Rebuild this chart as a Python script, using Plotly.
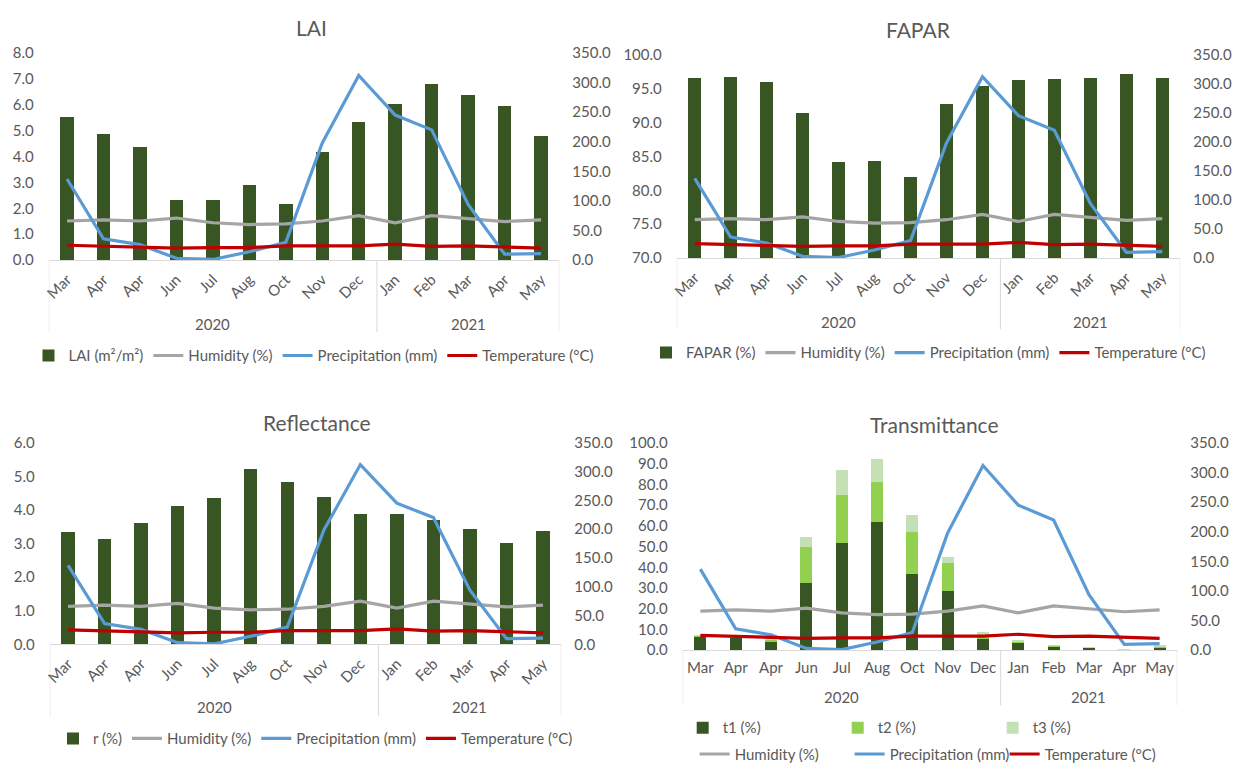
import plotly.graph_objects as go

# ---- data -------------------------------------------------------------
months = ["Mar", "Apr", "Apr", "Jun", "Jul", "Aug", "Oct", "Nov", "Dec",
          "Jan", "Feb", "Mar", "Apr", "May"]
years = ["2020"] * 9 + ["2021"] * 5

humidity = [66, 68, 66, 71, 63, 60, 61, 66, 75, 63, 75, 70, 65, 68]
precipitation = [137, 36, 26, 3, 1, 14, 30, 198, 312, 245, 220, 94, 10, 11]
temperature = [25, 23, 21, 20, 21, 21, 24, 24, 24, 27, 23, 24, 22, 20]

lai = [5.52, 4.86, 4.35, 2.32, 2.31, 2.89, 2.18, 4.19, 5.34, 6.03, 6.81, 6.39, 5.95, 4.81]
fapar = [96.6, 96.75, 96.0, 91.4, 84.1, 84.3, 82.0, 92.7, 95.4, 96.2, 96.4, 96.6, 97.1, 96.6]
reflectance = [3.34, 3.12, 3.60, 4.13, 4.35, 5.22, 4.83, 4.39, 3.87, 3.87, 3.70, 3.44, 3.03, 3.36]
t1 = [6.6, 6.0, 3.9, 32.4, 51.6, 61.9, 36.9, 28.8, 5.2, 3.6, 2.0, 1.2, 0.0, 1.5]
t2 = [0.4, 0.3, 1.3, 17.6, 23.2, 19.4, 20.2, 13.5, 2.2, 0.8, 0.4, 0.1, 0.0, 0.4]
t3 = [0.1, 0.1, 0.1, 4.4, 12.2, 10.8, 8.2, 2.8, 1.2, 0.3, 0.1, 0.1, 0.5, 0.2]

# ---- styling ----------------------------------------------------------
W, H = 1234, 773
FONT = "Lato"
FS = 15
TXT = "#595959"
AXIS_LINE = "#D9D9D9"
DARK_GREEN = "#375623"
MID_GREEN = "#92D050"
LIGHT_GREEN = "#C5E0B4"
HUM_C, PRE_C, TEM_C = "#A5A5A5", "#5B9BD5", "#C00000"


def fx(p):
    return p / W


def fy(p):
    return 1 - p / H


idx = list(range(len(months)))
# year-group boundaries and centres on the category axis
bounds = [-0.5] + [i - 0.5 for i in range(1, len(years)) if years[i] != years[i - 1]] + [len(years) - 0.5]
groups = []
for i, y in enumerate(years):
    if not groups or groups[-1][0] != y:
        groups.append([y, []])
    groups[-1][1].append(i)

panels = [
    dict(n=1, title="LAI", bars=[("LAI (m²/m²)", lai, DARK_GREEN)],
         yrange=[0, 8], dtick=1, bw=0.37,
         x=(43, 556), y=(44, 256), title_xy=(307, 18), tickangle=-45,
         year_y=321, div_bottom=330, legend="legend", leg_xy=(309, 354)),
    dict(n=2, title="FAPAR", bars=[("FAPAR (%)", fapar, DARK_GREEN)],
         yrange=[70, 100], dtick=5, bw=0.37,
         x=(674, 1180), y=(45.7, 254), title_xy=(917, 20), tickangle=-45,
         year_y=319, div_bottom=327, legend="legend2", leg_xy=(927, 351)),
    dict(n=3, title="Reflectance", bars=[("r (%)", reflectance, DARK_GREEN)],
         yrange=[0, 6], dtick=1, bw=0.37,
         x=(44, 558), y=(443, 649.5), title_xy=(313, 422), tickangle=-45,
         year_y=714, div_bottom=723, legend="legend3", leg_xy=(311, 746)),
    dict(n=4, title="Transmittance",
         bars=[("t1 (%)", t1, DARK_GREEN), ("t2 (%)", t2, MID_GREEN), ("t3 (%)", t3, LIGHT_GREEN)],
         yrange=[0, 100], dtick=10, bw=0.34,
         x=(680, 1177), y=(443.3, 655.5), title_xy=(933, 424), tickangle=0,
         year_y=703, div_bottom=712, legend="legend4", leg_xy=(688, 735),
         line_legend="legend5", line_leg_xy=(700, 762)),
]

fig = go.Figure()
layout = dict(
    width=W, height=H, margin=dict(l=0, r=0, t=0, b=0),
    paper_bgcolor="white", plot_bgcolor="white",
    barmode="stack", showlegend=True,
    font=dict(family=FONT, size=FS, color=TXT),
)
annotations = []
shapes = []

for p in panels:
    n = p["n"]
    xa = "x" if n == 1 else f"x{n}"
    ya_left_num = 2 * n - 1
    ya_right_num = 2 * n
    ya_l = "y" if ya_left_num == 1 else f"y{ya_left_num}"
    ya_r = f"y{ya_right_num}"
    xkey = "xaxis" if n == 1 else f"xaxis{n}"
    ylkey = "yaxis" if ya_left_num == 1 else f"yaxis{ya_left_num}"
    yrkey = f"yaxis{ya_right_num}"
    line_legend = p.get("line_legend", p["legend"])

    for name, vals, col in p["bars"]:
        fig.add_trace(go.Bar(
            x=idx, y=vals, name=name, marker=dict(color=col, line=dict(width=0)),
            width=p["bw"], xaxis=xa, yaxis=ya_l, legend=p["legend"],
            hoverinfo="skip",
        ))
    for name, vals, col in [("Humidity (%)", humidity, HUM_C),
                            ("Precipitation (mm)", precipitation, PRE_C),
                            ("Temperature (°C)", temperature, TEM_C)]:
        fig.add_trace(go.Scatter(
            x=idx, y=vals, name=name, mode="lines",
            line=dict(color=col, width=3.2), xaxis=xa, yaxis=ya_r,
            legend=line_legend, hoverinfo="skip",
        ))

    xd = [fx(p["x"][0]), fx(p["x"][1])]
    yd = [fy(p["y"][1]), fy(p["y"][0])]
    layout[xkey] = dict(
        domain=xd, anchor=ya_l, range=[-0.5, len(months) - 0.5],
        tickmode="array", tickvals=idx, ticktext=months,
        tickangle=p["tickangle"], ticks="", showgrid=False, zeroline=False,
        showline=True, linecolor=AXIS_LINE, linewidth=1,
        tickfont=dict(family=FONT, size=FS, color=TXT),
        ticklabelstandoff=4, fixedrange=True,
    )
    layout[ylkey] = dict(
        domain=yd, anchor=xa, range=p["yrange"], dtick=p["dtick"],
        tickformat=".1f", ticks="", showgrid=False, zeroline=False,
        showline=False, tickfont=dict(family=FONT, size=FS, color=TXT),
        ticklabelstandoff=14, fixedrange=True,
    )
    layout[yrkey] = dict(
        overlaying=ya_l, side="right", anchor=xa, range=[0, 350], dtick=50,
        tickformat=".1f", ticks="", showgrid=False, zeroline=False,
        showline=False, tickfont=dict(family=FONT, size=FS, color=TXT),
        ticklabelstandoff=12, fixedrange=True,
    )

    # chart title
    annotations.append(dict(
        text=p["title"], xref="paper", yref="paper",
        x=fx(p["title_xy"][0]), y=fy(p["title_xy"][1]),
        xanchor="center", yanchor="middle", showarrow=False,
        font=dict(family=FONT, size=21, color=TXT),
    ))
    # year labels under the month labels
    for yr, members in groups:
        annotations.append(dict(
            text=yr, xref=xa, yref="paper",
            x=sum(members) / len(members), y=fy(p["year_y"]),
            xanchor="center", yanchor="middle", showarrow=False,
            font=dict(family=FONT, size=FS, color=TXT),
        ))
    # category group dividers
    for b in bounds:
        shapes.append(dict(
            type="line", xref=xa, yref="paper", x0=b, x1=b,
            y0=yd[0], y1=fy(p["div_bottom"]),
            line=dict(color=AXIS_LINE, width=1),
        ))

    leg_common = dict(
        orientation="h", bgcolor="rgba(0,0,0,0)", itemwidth=30,
        traceorder="normal",
        font=dict(family=FONT, size=FS, color=TXT),
        itemclick=False, itemdoubleclick=False,
    )
    if n < 4:
        layout[p["legend"]] = dict(
            x=fx(p["leg_xy"][0]), y=fy(p["leg_xy"][1]),
            xanchor="center", yanchor="middle", **leg_common,
        )
    else:
        layout[p["legend"]] = dict(
            x=fx(p["leg_xy"][0] - 8), y=fy(p["leg_xy"][1]),
            xanchor="left", yanchor="middle",
            entrywidth=110, entrywidthmode="pixels", **leg_common,
        )
        layout[line_legend] = dict(
            x=fx(p["line_leg_xy"][0] - 8), y=fy(p["line_leg_xy"][1]),
            xanchor="left", yanchor="middle",
            entrywidth=110, entrywidthmode="pixels", **leg_common,
        )

layout["annotations"] = annotations
layout["shapes"] = shapes
fig.update_layout(**layout)

fig.write_html("out.html", config={"displayModeBar": False})
